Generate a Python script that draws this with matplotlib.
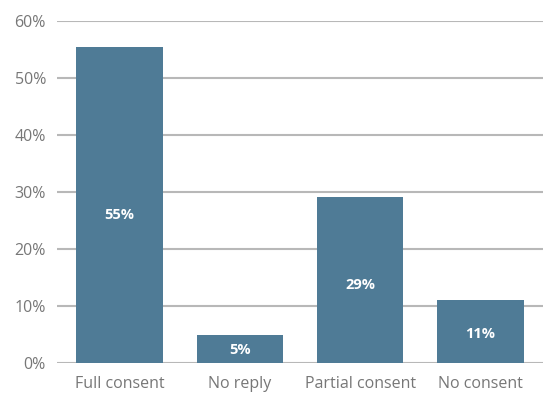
import matplotlib.pyplot as plt

categories = ['Full consent', 'No reply', 'Partial consent', 'No consent']
values = [55.4, 4.9, 29.1, 11.0]
labels = ['55%', '5%', '29%', '11%']
yticks = [0, 10, 20, 30, 40, 50, 60]

plt.rcParams['font.family'] = ['Open Sans', 'DejaVu Sans']

fig = plt.figure(figsize=(5.43, 3.97), dpi=100)
ax = fig.add_axes([57 / 543, 34 / 397, 486 / 543, 342 / 397])

x = range(len(categories))
ax.bar(x, values, width=0.72, color='#4f7b96', zorder=2)
for i, (v, lab) in enumerate(zip(values, labels)):
    ax.text(i, v * 0.47, lab, ha='center', va='center', color='white',
            fontsize=10.5, fontweight='bold', zorder=3)

ax.set_ylim(0, 60)
ax.set_xlim(-0.52, 3.52)
ax.set_yticks(yticks)
ax.set_yticklabels([f'{t}%' for t in yticks])
ax.set_xticks(list(x))
ax.set_xticklabels(categories)
ax.yaxis.grid(True, color='#b8b8b8', linewidth=1.5, zorder=0)
ax.set_axisbelow(True)
for s in ax.spines.values():
    s.set_visible(False)
ax.tick_params(axis='both', length=0, colors='#777777', labelsize=11.5)
ax.tick_params(axis='y', pad=8)
ax.tick_params(axis='x', pad=9)

fig.savefig('out.png', dpi=100)
